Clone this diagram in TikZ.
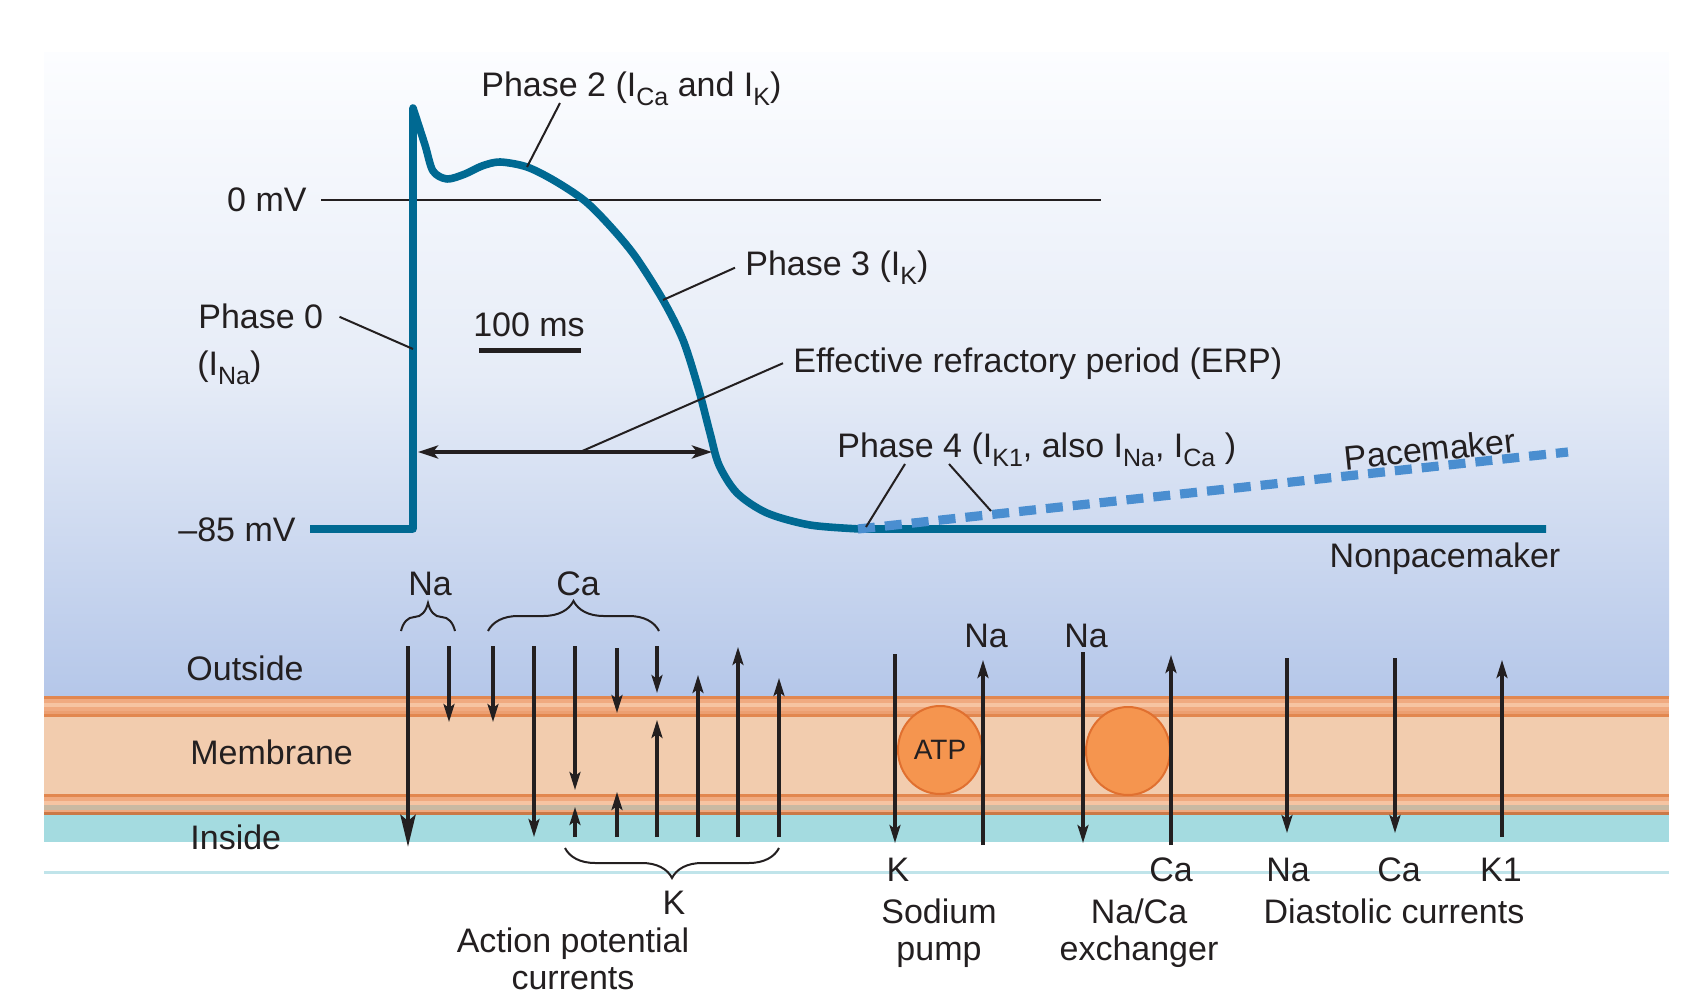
\documentclass[tikz,border=0pt]{standalone}
\usepackage{fontspec}
\setmainfont{Liberation Sans}
\usetikzlibrary{arrows.meta,decorations.pathreplacing,shapes.geometric,positioning}

\definecolor{apblue}{RGB}{0,105,146}
\definecolor{pmblue}{RGB}{74,142,208}
\definecolor{txt}{RGB}{35,31,32}
\definecolor{bgtop}{RGB}{252,253,255}
\definecolor{bgmid}{RGB}{230,236,247}
\definecolor{bgbot}{RGB}{181,199,233}
\definecolor{memdark}{RGB}{226,135,79}
\definecolor{memmid}{RGB}{240,170,128}
\definecolor{memlight}{RGB}{246,196,162}
\definecolor{memfill}{RGB}{242,204,174}
\definecolor{memgrey}{RGB}{201,185,162}
\definecolor{cytosol}{RGB}{164,219,224}
\definecolor{pumpfill}{RGB}{245,149,79}
\definecolor{pumpedge}{RGB}{224,112,48}
\definecolor{rimline}{RGB}{192,228,234}

\newcommand{\sbs}[1]{\raisebox{-0.45ex}{\fontsize{12.5}{13}\selectfont #1}}

\tikzset{
  lbl/.style={inner sep=0pt, text=txt, font=\fontsize{17}{18.5}\selectfont},
  leader/.style={txt, line width=1pt},
  ion/.style={-{Stealth[length=9pt,width=5.5pt,inset=2pt]}, line width=1.6pt, txt},
  bigion/.style={-{Stealth[length=16pt,width=7.5pt,inset=3pt]}, line width=2.4pt, txt},
  curly/.style={txt, line width=1pt, decorate, decoration={brace, amplitude=#1}},
  pump/.style={ellipse, minimum width=42pt, minimum height=44pt, inner sep=0pt,
    fill=pumpfill, draw=pumpedge, line width=1pt, text=txt, font=\fontsize{14}{16}\selectfont}
}

\begin{document}
\begin{tikzpicture}[x=0.5pt,y=-0.5pt]
\useasboundingbox (0,0) rectangle (1704,1000);

% background panel
\shade[top color=bgtop, bottom color=bgbot, middle color=bgmid] (44,53) rectangle (1669,696);

% membrane layers
\fill[memfill] (44,696) rectangle (1669,815);
\foreach \ya/\yb/\c in {696/699/memdark, 699/703/memmid, 703/707/memlight, 707/711/memmid,
    711/714/memmid!70!memdark, 714/717/memdark, 794/797/memdark, 797/801/memmid,
    801/805/memlight, 805/810/memgrey, 810/812/memmid, 812/815/memdark!90!black}
  \fill[\c] (44,\ya) rectangle (1669,\yb);
\fill[cytosol] (44,815) rectangle (1669,842);
\draw[rimline, line width=1.5pt] (44,872) -- (1669,872);

% voltage axis
\node[lbl, anchor=base east] (zero) at (307,212) {0 mV};
\node[lbl, anchor=base east] (rest) at (296,541) {--85 mV};
\draw[txt, line width=1.3pt] (321,200) -- (1101,200);

% action potential
\draw[apblue, line width=3.8pt, line join=round] (310,529) -- (413,529) -- (413,108)
  -- plot[smooth, tension=0.5] coordinates {(413,108) (425,145) (433,171) (447,179)
    (465,174) (482,166) (500,162) (527,167) (555,181) (585,201) (610,226) (635,256)
    (663,300) (683,340) (698,387) (710,433) (719,465) (737,493) (767,513) (810,525) (860,529)}
  -- (1546,529);
\draw[pmblue, line width=4.6pt, dash pattern=on 8.5pt off 5pt] (858,529) -- (1568,452);

% named points on the trace
\coordinate (ph0tip) at (413,349);
\coordinate (ph2tip) at (527,167);
\coordinate (ph3tip) at (663,300);
\coordinate (erptip) at (580,452);
\coordinate (ph4tipa) at (866,527);
\coordinate (ph4tipb) at (991,511);
\coordinate (erpl) at (418,452);
\coordinate (erpr) at (712,452);

% phase labels
\node[lbl, anchor=base west] (ph2) at (481,97) {Phase 2 (I\sbs{Ca} and I\sbs{K})};
\node[lbl, anchor=base west] (ph3) at (745,276) {Phase 3 (I\sbs{K})};
\node[lbl, anchor=base west] (ph0) at (198,329) {Phase 0};
\node[lbl, anchor=base west] (ph0b) at (197,376) {(I\sbs{Na})};
\node[lbl, anchor=base west] (erp) at (793,372) {Effective refractory period (ERP)};
\node[lbl, anchor=base west] (ph4) at (837,458) {Phase 4 (I\sbs{K1}, also I\sbs{Na}, I\sbs{Ca} )};
\node[lbl, rotate=6] (pace) at (1430,449) {Pacemaker};
\node[lbl, anchor=base] (nonpace) at (1445,567) {Nonpacemaker};

\draw[leader] (ph2.base west) ++(79,6) -- (ph2tip);
\draw[leader] ([xshift=-5pt]ph3.west) -- (ph3tip);
\draw[leader] ([xshift=8pt]ph0.east) -- (ph0tip);
\draw[leader] ([xshift=-5pt]erp.west) -- (erptip);
\draw[leader] (ph4.base west) ++(68,6) -- (ph4tipa);
\draw[leader] (ph4.base west) ++(112,6) -- (ph4tipb);

% ERP and time scale
\draw[{Stealth[length=10pt,width=6.5pt,inset=2.5pt]}-{Stealth[length=10pt,width=6.5pt,inset=2.5pt]},
  txt, line width=2pt] (erpl) -- (erpr);
\node[lbl, anchor=base] (scale) at (529,336) {100 ms};
\draw[txt, line width=2.5pt] (479,351) -- (581,351);

% membrane labels
\node[lbl, anchor=base west] (outside) at (186,680) {Outside};
\node[lbl, anchor=base west] (membrane) at (190,764) {Membrane};
\node[lbl, anchor=base west] (inside) at (190,849) {Inside};

% pump and exchanger
\node[pump] (atp) at (940,750) {ATP};
\node[pump] (nca) at (1128,751) {};

% ion currents
\draw[bigion] (408,646) -- (408,847);
\foreach \x/\ya/\yb in {449/646/722, 493/646/722, 534/646/837, 575/646/790, 617/648/713,
    657/646/693, 575/837/807, 617/837/792, 657/837/720, 698/837/675, 738/837/647,
    779/837/678, 895/654/843, 983/845/660, 1083/652/843, 1171/845/655, 1287/658/833,
    1395/658/833, 1502/837/660}
  \draw[ion] (\x,\ya) -- (\x,\yb);

% braces
\draw[curly=14pt] (401,631) -- (455,631);
\draw[curly=15pt] (488,631) -- (659,631);
\draw[curly=15pt] (779,848) -- (565,848);

% ion labels
\node[lbl, anchor=base] (naap) at (430,595) {Na};
\node[lbl, anchor=base] (caap) at (578,595) {Ca};
\node[lbl, anchor=base] (napump) at (986,647) {Na};
\node[lbl, anchor=base] (naex) at (1086,647) {Na};
\node[lbl, anchor=base] (kap) at (674,914) {K};
\foreach \x/\t [count=\i] in {898/K, 1171/Ca, 1288/Na, 1399/Ca, 1501/K1}
  \node[lbl, anchor=base] (low\i) at (\x,881) {\t};

% group captions
\node[lbl, align=center, anchor=north] (apcur) at (573,927) {Action potential\\currents};
\node[lbl, align=center, anchor=north] (sodium) at (939,898) {Sodium\\pump};
\node[lbl, align=center, anchor=north] (exch) at (1139,898) {Na/Ca\\exchanger};
\node[lbl, anchor=north] (diast) at (1394,898) {Diastolic currents};
\end{tikzpicture}
\end{document}
